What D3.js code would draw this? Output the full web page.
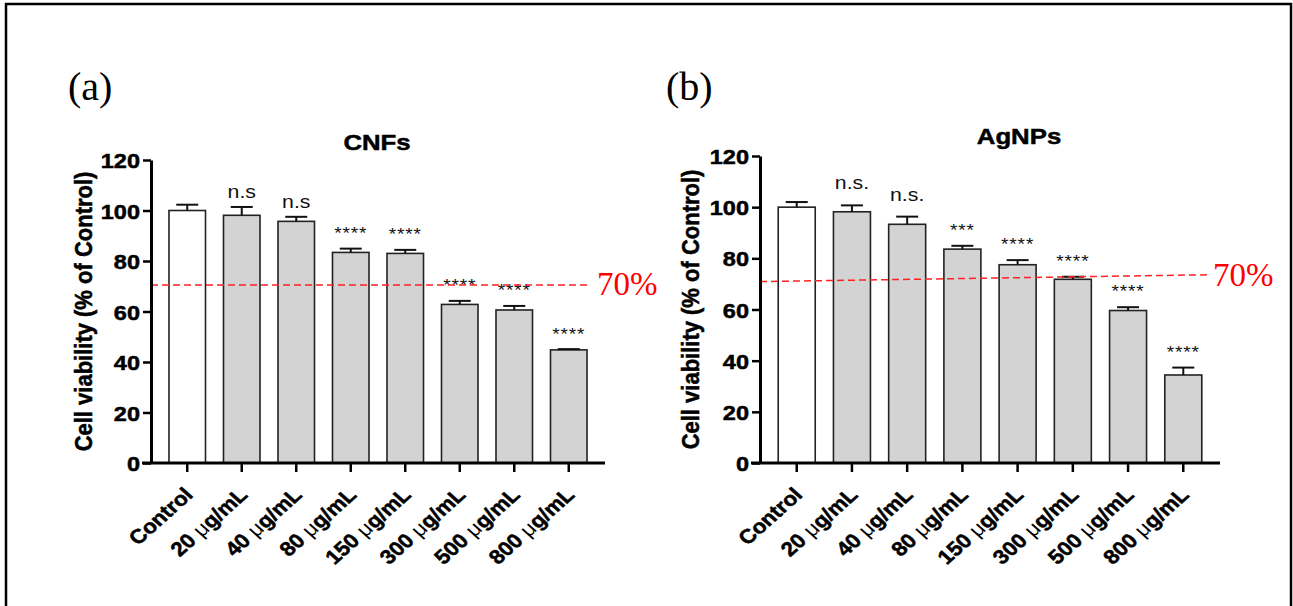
<!DOCTYPE html>
<html>
<head>
<meta charset="utf-8">
<script src="https://cdn.jsdelivr.net/npm/d3@7"></script>
<style>
  html, body { margin: 0; padding: 0; background: #fff; }
  svg { display: block; }
</style>
</head>
<body>
<svg id="chart" width="1293" height="606"></svg>
<script>
// ---------------- DATA ----------------
const categories = ["Control", "20 μg/mL", "40 μg/mL", "80 μg/mL", "150 μg/mL", "300 μg/mL", "500 μg/mL", "800 μg/mL"];

const cnfMeans  = [100, 98.1, 95.7, 83.4, 83.0, 62.8, 60.6, 44.8];
const cnfErrors = [2.3, 3.3, 1.8, 1.5, 1.4, 1.4, 1.6, 0.3];
const cnfSig    = ["", "n.s", "n.s", "****", "****", "****", "****", "****"];

const agMeans  = [100, 98.2, 93.3, 83.6, 77.5, 71.8, 59.6, 34.4];
const agErrors = [2.0, 2.5, 3.0, 1.3, 1.8, 1.0, 1.3, 2.9];
const agSig    = ["", "n.s.", "n.s.", "***", "****", "****", "****", "****"];

const yTicks = [0, 20, 40, 60, 80, 100, 120];
const yMax = 120;

const cnfThreshold = [70.5, 70.5];   // start / end value of the red dashed line
const agThreshold  = [70.9, 73.6];
const thresholdLabel = "70%";

const panelLetters = ["(a)", "(b)"];
const panelTitles = ["CNFs", "AgNPs"];
const yAxisTitle = "Cell viability (% of Control)";

// ---------------- LAYOUT ----------------
const SX = 1.12; // horizontal stretch of the chart glyphs
const FONT = "Arial, 'Liberation Sans', Helvetica, sans-serif";
const SERIF = "'Times New Roman', 'Liberation Serif', Times, serif";
const HEAVY = 0.5; // extra stroke to thicken bold glyphs

const svg = d3.select("#chart");

// outer frame
svg.append("rect")
  .attr("x", 6).attr("y", 4).attr("width", 1285).attr("height", 640)
  .attr("fill", "none").attr("stroke", "#000").attr("stroke-width", 2.5);

const panels = [
  {
    means: cnfMeans, errors: cnfErrors, sig: cnfSig, threshold: cnfThreshold,
    letter: panelLetters[0], title: panelTitles[0],
    x0: 151, x1: 605, yTop: 160, yBot: 463,
    letterX: 68, letterY: 100,
    titleX: 377, titleY: 150,
    yLabelX: 85,
    lineX1: 590, pctX: 597, pctY: 295,
    nsOff: 13.5, starOff: 19.5
  },
  {
    means: agMeans, errors: agErrors, sig: agSig, threshold: agThreshold,
    letter: panelLetters[1], title: panelTitles[1],
    x0: 760, x1: 1220, yTop: 156, yBot: 463,
    letterX: 666, letterY: 100,
    titleX: 1019, titleY: 144,
    yLabelX: 692,
    lineX1: 1211, pctX: 1213, pctY: 286,
    nsOff: 21, starOff: 20
  }
];

panels.forEach(p => {
  const g = svg.append("g");

  const x = d3.scaleBand().domain(categories).range([p.x0, p.x1])
    .paddingInner(0.33).paddingOuter(0.33);
  const y = d3.scaleLinear().domain([0, yMax]).range([p.yBot, p.yTop]);

  // panel letter
  g.append("text")
    .attr("x", p.letterX).attr("y", p.letterY)
    .attr("font-family", SERIF).attr("font-size", 40)
    .text(p.letter);

  // title
  g.append("text")
    .attr("transform", `translate(${p.titleX},${p.titleY}) scale(${SX},1)`)
    .attr("text-anchor", "middle")
    .attr("font-family", FONT).attr("font-weight", "bold").attr("font-size", 23)
    .attr("stroke", "#000").attr("stroke-width", HEAVY)
    .text(p.title);

  // y axis title
  g.append("text")
    .attr("transform", `translate(${p.yLabelX},${(p.yTop + p.yBot) / 2}) scale(${SX},1) rotate(-90)`)
    .attr("text-anchor", "middle")
    .attr("dominant-baseline", "middle")
    .attr("font-family", FONT).attr("font-weight", "bold").attr("font-size", 22)
    .attr("stroke", "#000").attr("stroke-width", HEAVY)
    .text(yAxisTitle);

  // bars
  g.selectAll("rect.bar").data(p.means).join("rect")
    .attr("class", "bar")
    .attr("x", (d, i) => x(categories[i]))
    .attr("width", x.bandwidth())
    .attr("y", d => y(d))
    .attr("height", d => y(0) - y(d))
    .attr("fill", (d, i) => i === 0 ? "#ffffff" : "#d3d3d3")
    .attr("stroke", "#222").attr("stroke-width", 1.6);

  // error bars (upper)
  const cx = i => x(categories[i]) + x.bandwidth() / 2;
  g.selectAll("line.err").data(p.means).join("line")
    .attr("class", "err")
    .attr("x1", (d, i) => cx(i)).attr("x2", (d, i) => cx(i))
    .attr("y1", d => y(d)).attr("y2", (d, i) => y(d + p.errors[i]))
    .attr("stroke", "#111").attr("stroke-width", 2);
  g.selectAll("line.cap").data(p.means).join("line")
    .attr("class", "cap")
    .attr("x1", (d, i) => cx(i) - 11).attr("x2", (d, i) => cx(i) + 11)
    .attr("y1", (d, i) => y(d + p.errors[i])).attr("y2", (d, i) => y(d + p.errors[i]))
    .attr("stroke", "#111").attr("stroke-width", 2);

  // significance labels
  g.selectAll("text.sig").data(p.sig).join("text")
    .attr("class", "sig")
    .attr("transform", (d, i) => {
      const top = y(p.means[i] + p.errors[i]);
      const isStar = d.indexOf("*") >= 0;
      const by = isStar ? top - p.starOff + 10 : top - p.nsOff + 5;
      return `translate(${cx(i)},${by}) scale(${SX},1)`;
    })
    .attr("text-anchor", "middle")
    .attr("font-family", FONT).attr("font-size", d => d.indexOf("*") >= 0 ? 17 : 19)
    .attr("letter-spacing", d => d.indexOf("*") >= 0 ? 0.8 : 0)
    .attr("fill", "#111")
    .text(d => d);

  // red dashed threshold line
  const lineScale = d3.scaleLinear().domain([0, 1]).range([p.x0, p.lineX1]);
  g.append("line")
    .attr("x1", lineScale(0)).attr("x2", lineScale(1))
    .attr("y1", y(p.threshold[0])).attr("y2", y(p.threshold[1]))
    .attr("stroke", "#f22").attr("stroke-width", 1.5)
    .attr("stroke-dasharray", "7,4");
  g.append("text")
    .attr("x", p.pctX).attr("y", p.pctY)
    .attr("font-family", SERIF).attr("font-size", 33).attr("fill", "#ff0000")
    .text(thresholdLabel);

  // y axis
  const yAxis = g.append("g")
    .attr("transform", `translate(${p.x0},0)`)
    .call(d3.axisLeft(y).tickValues(yTicks).tickSize(8).tickSizeOuter(0));
  yAxis.select(".domain").attr("stroke-width", 3).attr("stroke", "#000");
  yAxis.selectAll(".tick line").attr("stroke-width", 2.5).attr("stroke", "#000");
  yAxis.selectAll(".tick text")
    .attr("x", 0).attr("dy", null)
    .attr("transform", `translate(-11,7.5) scale(${SX},1)`)
    .attr("font-family", FONT).attr("font-weight", "bold").attr("font-size", 21)
    .attr("stroke", "#000").attr("stroke-width", HEAVY)
    .attr("fill", "#000");

  // x axis
  const xAxis = g.append("g")
    .attr("transform", `translate(0,${p.yBot})`)
    .call(d3.axisBottom(x).tickSize(9).tickSizeOuter(0));
  xAxis.select(".domain").attr("stroke-width", 3).attr("stroke", "#000")
    .attr("d", `M${p.x0 - 9},0H${p.x1}`);
  xAxis.selectAll(".tick line").attr("stroke-width", 2.5).attr("stroke", "#000");
  xAxis.selectAll(".tick text").each(function(d) {
    const t = d3.select(this);
    t.text(null)
      .attr("x", 0).attr("y", 0).attr("dy", null)
      .attr("text-anchor", "end")
      .attr("transform", `translate(7,33) scale(${SX},1) rotate(-45)`)
      .attr("font-family", FONT).attr("font-weight", "bold").attr("font-size", 20)
      .attr("fill", "#000");
    const parts = d.split("μ");
    t.append("tspan").attr("stroke", "#000").attr("stroke-width", HEAVY).text(parts[0]);
    if (parts.length > 1) {
      t.append("tspan").attr("font-weight", "normal").text("μ");
      t.append("tspan").attr("stroke", "#000").attr("stroke-width", HEAVY).text(parts[1]);
    }
  });
});
</script>
</body>
</html>
